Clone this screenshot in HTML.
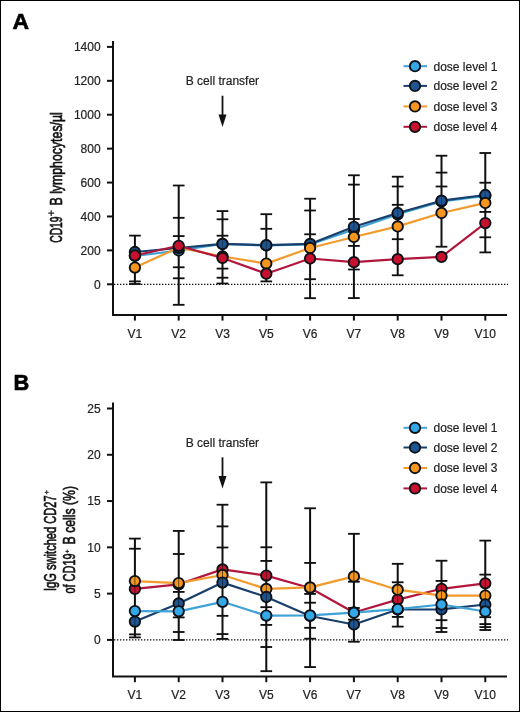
<!DOCTYPE html>
<html><head><meta charset="utf-8"><style>
html,body{margin:0;padding:0;background:#fff;}
body{width:520px;height:712px;overflow:hidden;}
svg{display:block;will-change:transform;font-family:"Liberation Sans",sans-serif;fill:#222;}
.tt{stroke:#111;fill:#111;stroke-width:0.65px;}
text{stroke:#222;stroke-width:0.2px;}
</style></head><body>
<svg width="520" height="712" viewBox="0 0 520 712">
<rect x="0.5" y="0.5" width="519" height="711" fill="#fff" stroke="#000" stroke-width="1"/>
<text transform="translate(12.6,28.5) scale(1.05,1)" font-size="21.8" font-weight="bold" style="fill:#000;stroke:#000;stroke-width:0.6px">A</text>
<line x1="113" y1="41" x2="113" y2="315" stroke="#111" stroke-width="2"/>
<line x1="112" y1="315" x2="507" y2="315" stroke="#111" stroke-width="2"/>
<line x1="107" y1="284.3" x2="113" y2="284.3" stroke="#111" stroke-width="2"/>
<text x="100.6" y="288.5" font-size="12" text-anchor="end">0</text>
<line x1="107" y1="250.39" x2="113" y2="250.39" stroke="#111" stroke-width="2"/>
<text x="100.6" y="254.59" font-size="12" text-anchor="end">200</text>
<line x1="107" y1="216.47" x2="113" y2="216.47" stroke="#111" stroke-width="2"/>
<text x="100.6" y="220.67" font-size="12" text-anchor="end">400</text>
<line x1="107" y1="182.56" x2="113" y2="182.56" stroke="#111" stroke-width="2"/>
<text x="100.6" y="186.76" font-size="12" text-anchor="end">600</text>
<line x1="107" y1="148.64" x2="113" y2="148.64" stroke="#111" stroke-width="2"/>
<text x="100.6" y="152.84" font-size="12" text-anchor="end">800</text>
<line x1="107" y1="114.73" x2="113" y2="114.73" stroke="#111" stroke-width="2"/>
<text x="100.6" y="118.93" font-size="12" text-anchor="end">1000</text>
<line x1="107" y1="80.82" x2="113" y2="80.82" stroke="#111" stroke-width="2"/>
<text x="100.6" y="85.02" font-size="12" text-anchor="end">1200</text>
<line x1="107" y1="46.9" x2="113" y2="46.9" stroke="#111" stroke-width="2"/>
<text x="100.6" y="51.1" font-size="12" text-anchor="end">1400</text>
<line x1="134.9" y1="315" x2="134.9" y2="320.6" stroke="#111" stroke-width="2"/>
<text x="134.9" y="337.5" font-size="12" text-anchor="middle">V1</text>
<line x1="178.7" y1="315" x2="178.7" y2="320.6" stroke="#111" stroke-width="2"/>
<text x="178.7" y="337.5" font-size="12" text-anchor="middle">V2</text>
<line x1="222.5" y1="315" x2="222.5" y2="320.6" stroke="#111" stroke-width="2"/>
<text x="222.5" y="337.5" font-size="12" text-anchor="middle">V3</text>
<line x1="266.3" y1="315" x2="266.3" y2="320.6" stroke="#111" stroke-width="2"/>
<text x="266.3" y="337.5" font-size="12" text-anchor="middle">V5</text>
<line x1="310.1" y1="315" x2="310.1" y2="320.6" stroke="#111" stroke-width="2"/>
<text x="310.1" y="337.5" font-size="12" text-anchor="middle">V6</text>
<line x1="353.9" y1="315" x2="353.9" y2="320.6" stroke="#111" stroke-width="2"/>
<text x="353.9" y="337.5" font-size="12" text-anchor="middle">V7</text>
<line x1="397.7" y1="315" x2="397.7" y2="320.6" stroke="#111" stroke-width="2"/>
<text x="397.7" y="337.5" font-size="12" text-anchor="middle">V8</text>
<line x1="441.5" y1="315" x2="441.5" y2="320.6" stroke="#111" stroke-width="2"/>
<text x="441.5" y="337.5" font-size="12" text-anchor="middle">V9</text>
<line x1="485.3" y1="315" x2="485.3" y2="320.6" stroke="#111" stroke-width="2"/>
<text x="485.3" y="337.5" font-size="12" text-anchor="middle">V10</text>
<line x1="114" y1="284.3" x2="508" y2="284.3" stroke="#111" stroke-width="1.3" stroke-dasharray="1.4 1.6"/>
<text transform="translate(61.8,242.8) rotate(-90) scale(0.644,1)" font-size="16" class="tt">CD19</text><path d="M48.3 213.1H54.1M51.2 210.2V216" stroke="#222" stroke-width="1.2" fill="none"/><text transform="translate(61.8,205.5) rotate(-90) scale(0.77,1)" font-size="16" class="tt">B lymphocytes/µl</text>
<text x="222.4" y="85.1" font-size="12" text-anchor="middle">B cell transfer</text>
<line x1="222.5" y1="95.7" x2="222.5" y2="116" stroke="#111" stroke-width="1.8"/>
<path d="M218.5 114.5 L226.5 114.5 L222.5 127 Z" fill="#111"/>
<line x1="403.5" y1="66.2" x2="427" y2="66.2" stroke="#3fa2d6" stroke-width="2"/>
<circle cx="415" cy="66.2" r="5.2" fill="#33a8e6" stroke="#0d1219" stroke-width="1.9"/>
<text x="433.5" y="70.5" font-size="12">dose level 1</text>
<line x1="403.5" y1="85.9" x2="427" y2="85.9" stroke="#183f6c" stroke-width="2"/>
<circle cx="415" cy="85.9" r="5.2" fill="#1e5592" stroke="#0d1219" stroke-width="1.9"/>
<text x="433.5" y="90.2" font-size="12">dose level 2</text>
<line x1="403.5" y1="106.4" x2="427" y2="106.4" stroke="#f29b2c" stroke-width="2"/>
<circle cx="415" cy="106.4" r="5.2" fill="#f6961c" stroke="#0d1219" stroke-width="1.9"/>
<text x="433.5" y="110.7" font-size="12">dose level 3</text>
<line x1="403.5" y1="126.8" x2="427" y2="126.8" stroke="#b3163c" stroke-width="2"/>
<circle cx="415" cy="126.8" r="5.2" fill="#c9112f" stroke="#0d1219" stroke-width="1.9"/>
<text x="433.5" y="131.1" font-size="12">dose level 4</text>
<line x1="134.9" y1="235.6" x2="134.9" y2="284" stroke="#111" stroke-width="2"/>
<line x1="129.1" y1="235.6" x2="140.7" y2="235.6" stroke="#111" stroke-width="1.8"/>
<line x1="129.1" y1="281.4" x2="140.7" y2="281.4" stroke="#111" stroke-width="1.8"/>
<line x1="129.1" y1="284" x2="140.7" y2="284" stroke="#111" stroke-width="1.8"/>
<line x1="178.7" y1="185.5" x2="178.7" y2="304.8" stroke="#111" stroke-width="2"/>
<line x1="172.9" y1="185.5" x2="184.5" y2="185.5" stroke="#111" stroke-width="1.8"/>
<line x1="172.9" y1="217.8" x2="184.5" y2="217.8" stroke="#111" stroke-width="1.8"/>
<line x1="172.9" y1="236.1" x2="184.5" y2="236.1" stroke="#111" stroke-width="1.8"/>
<line x1="172.9" y1="267.3" x2="184.5" y2="267.3" stroke="#111" stroke-width="1.8"/>
<line x1="172.9" y1="278.3" x2="184.5" y2="278.3" stroke="#111" stroke-width="1.8"/>
<line x1="172.9" y1="304.8" x2="184.5" y2="304.8" stroke="#111" stroke-width="1.8"/>
<line x1="222.5" y1="211.1" x2="222.5" y2="283.5" stroke="#111" stroke-width="2"/>
<line x1="216.7" y1="211.1" x2="228.3" y2="211.1" stroke="#111" stroke-width="1.8"/>
<line x1="216.7" y1="219.3" x2="228.3" y2="219.3" stroke="#111" stroke-width="1.8"/>
<line x1="216.7" y1="235.7" x2="228.3" y2="235.7" stroke="#111" stroke-width="1.8"/>
<line x1="216.7" y1="268.6" x2="228.3" y2="268.6" stroke="#111" stroke-width="1.8"/>
<line x1="216.7" y1="277.7" x2="228.3" y2="277.7" stroke="#111" stroke-width="1.8"/>
<line x1="216.7" y1="283.5" x2="228.3" y2="283.5" stroke="#111" stroke-width="1.8"/>
<line x1="266.3" y1="214.2" x2="266.3" y2="281.4" stroke="#111" stroke-width="2"/>
<line x1="260.5" y1="214.2" x2="272.1" y2="214.2" stroke="#111" stroke-width="1.8"/>
<line x1="260.5" y1="228.8" x2="272.1" y2="228.8" stroke="#111" stroke-width="1.8"/>
<line x1="260.5" y1="281.4" x2="272.1" y2="281.4" stroke="#111" stroke-width="1.8"/>
<line x1="310.1" y1="198.7" x2="310.1" y2="298.2" stroke="#111" stroke-width="2"/>
<line x1="304.3" y1="198.7" x2="315.9" y2="198.7" stroke="#111" stroke-width="1.8"/>
<line x1="304.3" y1="210.5" x2="315.9" y2="210.5" stroke="#111" stroke-width="1.8"/>
<line x1="304.3" y1="234.3" x2="315.9" y2="234.3" stroke="#111" stroke-width="1.8"/>
<line x1="304.3" y1="279.2" x2="315.9" y2="279.2" stroke="#111" stroke-width="1.8"/>
<line x1="304.3" y1="298.2" x2="315.9" y2="298.2" stroke="#111" stroke-width="1.8"/>
<line x1="353.9" y1="175.3" x2="353.9" y2="298.1" stroke="#111" stroke-width="2"/>
<line x1="348.1" y1="175.3" x2="359.7" y2="175.3" stroke="#111" stroke-width="1.8"/>
<line x1="348.1" y1="184.6" x2="359.7" y2="184.6" stroke="#111" stroke-width="1.8"/>
<line x1="348.1" y1="219" x2="359.7" y2="219" stroke="#111" stroke-width="1.8"/>
<line x1="348.1" y1="245.9" x2="359.7" y2="245.9" stroke="#111" stroke-width="1.8"/>
<line x1="348.1" y1="269.5" x2="359.7" y2="269.5" stroke="#111" stroke-width="1.8"/>
<line x1="348.1" y1="298.1" x2="359.7" y2="298.1" stroke="#111" stroke-width="1.8"/>
<line x1="397.7" y1="176.7" x2="397.7" y2="275.3" stroke="#111" stroke-width="2"/>
<line x1="391.9" y1="176.7" x2="403.5" y2="176.7" stroke="#111" stroke-width="1.8"/>
<line x1="391.9" y1="186.5" x2="403.5" y2="186.5" stroke="#111" stroke-width="1.8"/>
<line x1="391.9" y1="204.8" x2="403.5" y2="204.8" stroke="#111" stroke-width="1.8"/>
<line x1="391.9" y1="239.2" x2="403.5" y2="239.2" stroke="#111" stroke-width="1.8"/>
<line x1="391.9" y1="275.3" x2="403.5" y2="275.3" stroke="#111" stroke-width="1.8"/>
<line x1="441.5" y1="155.7" x2="441.5" y2="246.7" stroke="#111" stroke-width="2"/>
<line x1="435.7" y1="155.7" x2="447.3" y2="155.7" stroke="#111" stroke-width="1.8"/>
<line x1="435.7" y1="172.6" x2="447.3" y2="172.6" stroke="#111" stroke-width="1.8"/>
<line x1="435.7" y1="186.5" x2="447.3" y2="186.5" stroke="#111" stroke-width="1.8"/>
<line x1="435.7" y1="246.7" x2="447.3" y2="246.7" stroke="#111" stroke-width="1.8"/>
<line x1="485.3" y1="153" x2="485.3" y2="252.4" stroke="#111" stroke-width="2"/>
<line x1="479.5" y1="153" x2="491.1" y2="153" stroke="#111" stroke-width="1.8"/>
<line x1="479.5" y1="182.7" x2="491.1" y2="182.7" stroke="#111" stroke-width="1.8"/>
<line x1="479.5" y1="211.9" x2="491.1" y2="211.9" stroke="#111" stroke-width="1.8"/>
<line x1="479.5" y1="237.3" x2="491.1" y2="237.3" stroke="#111" stroke-width="1.8"/>
<line x1="479.5" y1="252.4" x2="491.1" y2="252.4" stroke="#111" stroke-width="1.8"/>
<polyline points="134.9,256 178.7,250.5 222.5,244 266.3,245.5 310.1,244.5 353.9,229.5 397.7,214.3 441.5,201.5 485.3,196" fill="none" stroke="#3fa2d6" stroke-width="2.2" stroke-linejoin="round"/>
<circle cx="134.9" cy="256" r="5.2" fill="#33a8e6" stroke="#0d1219" stroke-width="1.9"/>
<circle cx="178.7" cy="250.5" r="5.2" fill="#33a8e6" stroke="#0d1219" stroke-width="1.9"/>
<circle cx="222.5" cy="244" r="5.2" fill="#33a8e6" stroke="#0d1219" stroke-width="1.9"/>
<circle cx="266.3" cy="245.5" r="5.2" fill="#33a8e6" stroke="#0d1219" stroke-width="1.9"/>
<circle cx="310.1" cy="244.5" r="5.2" fill="#33a8e6" stroke="#0d1219" stroke-width="1.9"/>
<circle cx="353.9" cy="229.5" r="5.2" fill="#33a8e6" stroke="#0d1219" stroke-width="1.9"/>
<circle cx="397.7" cy="214.3" r="5.2" fill="#33a8e6" stroke="#0d1219" stroke-width="1.9"/>
<circle cx="441.5" cy="201.5" r="5.2" fill="#33a8e6" stroke="#0d1219" stroke-width="1.9"/>
<circle cx="485.3" cy="196" r="5.2" fill="#33a8e6" stroke="#0d1219" stroke-width="1.9"/>
<polyline points="134.9,252 178.7,248 222.5,243.9 266.3,245.2 310.1,243.9 353.9,226.8 397.7,213 441.5,200.7 485.3,195" fill="none" stroke="#183f6c" stroke-width="2.2" stroke-linejoin="round"/>
<circle cx="134.9" cy="252" r="5.2" fill="#1e5592" stroke="#0d1219" stroke-width="1.9"/>
<circle cx="178.7" cy="248" r="5.2" fill="#1e5592" stroke="#0d1219" stroke-width="1.9"/>
<circle cx="222.5" cy="243.9" r="5.2" fill="#1e5592" stroke="#0d1219" stroke-width="1.9"/>
<circle cx="266.3" cy="245.2" r="5.2" fill="#1e5592" stroke="#0d1219" stroke-width="1.9"/>
<circle cx="310.1" cy="243.9" r="5.2" fill="#1e5592" stroke="#0d1219" stroke-width="1.9"/>
<circle cx="353.9" cy="226.8" r="5.2" fill="#1e5592" stroke="#0d1219" stroke-width="1.9"/>
<circle cx="397.7" cy="213" r="5.2" fill="#1e5592" stroke="#0d1219" stroke-width="1.9"/>
<circle cx="441.5" cy="200.7" r="5.2" fill="#1e5592" stroke="#0d1219" stroke-width="1.9"/>
<circle cx="485.3" cy="195" r="5.2" fill="#1e5592" stroke="#0d1219" stroke-width="1.9"/>
<g stroke="#111" stroke-width="1" opacity="0.4">
<line x1="134.9" y1="235.6" x2="134.9" y2="284"/>
<line x1="129.1" y1="235.6" x2="140.7" y2="235.6"/>
<line x1="129.1" y1="281.4" x2="140.7" y2="281.4"/>
<line x1="129.1" y1="284" x2="140.7" y2="284"/>
<line x1="178.7" y1="185.5" x2="178.7" y2="304.8"/>
<line x1="172.9" y1="185.5" x2="184.5" y2="185.5"/>
<line x1="172.9" y1="217.8" x2="184.5" y2="217.8"/>
<line x1="172.9" y1="236.1" x2="184.5" y2="236.1"/>
<line x1="172.9" y1="267.3" x2="184.5" y2="267.3"/>
<line x1="172.9" y1="278.3" x2="184.5" y2="278.3"/>
<line x1="172.9" y1="304.8" x2="184.5" y2="304.8"/>
<line x1="222.5" y1="211.1" x2="222.5" y2="283.5"/>
<line x1="216.7" y1="211.1" x2="228.3" y2="211.1"/>
<line x1="216.7" y1="219.3" x2="228.3" y2="219.3"/>
<line x1="216.7" y1="235.7" x2="228.3" y2="235.7"/>
<line x1="216.7" y1="268.6" x2="228.3" y2="268.6"/>
<line x1="216.7" y1="277.7" x2="228.3" y2="277.7"/>
<line x1="216.7" y1="283.5" x2="228.3" y2="283.5"/>
<line x1="266.3" y1="214.2" x2="266.3" y2="281.4"/>
<line x1="260.5" y1="214.2" x2="272.1" y2="214.2"/>
<line x1="260.5" y1="228.8" x2="272.1" y2="228.8"/>
<line x1="260.5" y1="281.4" x2="272.1" y2="281.4"/>
<line x1="310.1" y1="198.7" x2="310.1" y2="298.2"/>
<line x1="304.3" y1="198.7" x2="315.9" y2="198.7"/>
<line x1="304.3" y1="210.5" x2="315.9" y2="210.5"/>
<line x1="304.3" y1="234.3" x2="315.9" y2="234.3"/>
<line x1="304.3" y1="279.2" x2="315.9" y2="279.2"/>
<line x1="304.3" y1="298.2" x2="315.9" y2="298.2"/>
<line x1="353.9" y1="175.3" x2="353.9" y2="298.1"/>
<line x1="348.1" y1="175.3" x2="359.7" y2="175.3"/>
<line x1="348.1" y1="184.6" x2="359.7" y2="184.6"/>
<line x1="348.1" y1="219" x2="359.7" y2="219"/>
<line x1="348.1" y1="245.9" x2="359.7" y2="245.9"/>
<line x1="348.1" y1="269.5" x2="359.7" y2="269.5"/>
<line x1="348.1" y1="298.1" x2="359.7" y2="298.1"/>
<line x1="397.7" y1="176.7" x2="397.7" y2="275.3"/>
<line x1="391.9" y1="176.7" x2="403.5" y2="176.7"/>
<line x1="391.9" y1="186.5" x2="403.5" y2="186.5"/>
<line x1="391.9" y1="204.8" x2="403.5" y2="204.8"/>
<line x1="391.9" y1="239.2" x2="403.5" y2="239.2"/>
<line x1="391.9" y1="275.3" x2="403.5" y2="275.3"/>
<line x1="441.5" y1="155.7" x2="441.5" y2="246.7"/>
<line x1="435.7" y1="155.7" x2="447.3" y2="155.7"/>
<line x1="435.7" y1="172.6" x2="447.3" y2="172.6"/>
<line x1="435.7" y1="186.5" x2="447.3" y2="186.5"/>
<line x1="435.7" y1="246.7" x2="447.3" y2="246.7"/>
<line x1="485.3" y1="153" x2="485.3" y2="252.4"/>
<line x1="479.5" y1="153" x2="491.1" y2="153"/>
<line x1="479.5" y1="182.7" x2="491.1" y2="182.7"/>
<line x1="479.5" y1="211.9" x2="491.1" y2="211.9"/>
<line x1="479.5" y1="237.3" x2="491.1" y2="237.3"/>
<line x1="479.5" y1="252.4" x2="491.1" y2="252.4"/>
</g>
<polyline points="134.9,267.6 178.7,247.5 222.5,256.5 266.3,263.6 310.1,248 353.9,237 397.7,226.4 441.5,213 485.3,202.9" fill="none" stroke="#f29b2c" stroke-width="2.2" stroke-linejoin="round"/>
<circle cx="134.9" cy="267.6" r="5.2" fill="#f6961c" stroke="#0d1219" stroke-width="1.9"/>
<circle cx="178.7" cy="247.5" r="5.2" fill="#f6961c" stroke="#0d1219" stroke-width="1.9"/>
<circle cx="222.5" cy="256.5" r="5.2" fill="#f6961c" stroke="#0d1219" stroke-width="1.9"/>
<circle cx="266.3" cy="263.6" r="5.2" fill="#f6961c" stroke="#0d1219" stroke-width="1.9"/>
<circle cx="310.1" cy="248" r="5.2" fill="#f6961c" stroke="#0d1219" stroke-width="1.9"/>
<circle cx="353.9" cy="237" r="5.2" fill="#f6961c" stroke="#0d1219" stroke-width="1.9"/>
<circle cx="397.7" cy="226.4" r="5.2" fill="#f6961c" stroke="#0d1219" stroke-width="1.9"/>
<circle cx="441.5" cy="213" r="5.2" fill="#f6961c" stroke="#0d1219" stroke-width="1.9"/>
<circle cx="485.3" cy="202.9" r="5.2" fill="#f6961c" stroke="#0d1219" stroke-width="1.9"/>
<polyline points="134.9,255.5 178.7,245.8 222.5,258 266.3,273.7 310.1,258.5 353.9,262.2 397.7,259.2 441.5,256.9 485.3,223.1" fill="none" stroke="#b3163c" stroke-width="2.2" stroke-linejoin="round"/>
<circle cx="134.9" cy="255.5" r="5.2" fill="#c9112f" stroke="#0d1219" stroke-width="1.9"/>
<circle cx="178.7" cy="245.8" r="5.2" fill="#c9112f" stroke="#0d1219" stroke-width="1.9"/>
<circle cx="222.5" cy="258" r="5.2" fill="#c9112f" stroke="#0d1219" stroke-width="1.9"/>
<circle cx="266.3" cy="273.7" r="5.2" fill="#c9112f" stroke="#0d1219" stroke-width="1.9"/>
<circle cx="310.1" cy="258.5" r="5.2" fill="#c9112f" stroke="#0d1219" stroke-width="1.9"/>
<circle cx="353.9" cy="262.2" r="5.2" fill="#c9112f" stroke="#0d1219" stroke-width="1.9"/>
<circle cx="397.7" cy="259.2" r="5.2" fill="#c9112f" stroke="#0d1219" stroke-width="1.9"/>
<circle cx="441.5" cy="256.9" r="5.2" fill="#c9112f" stroke="#0d1219" stroke-width="1.9"/>
<circle cx="485.3" cy="223.1" r="5.2" fill="#c9112f" stroke="#0d1219" stroke-width="1.9"/>
<text transform="translate(13.5,390.1) scale(1.0,1)" font-size="21.8" font-weight="bold" style="fill:#000;stroke:#000;stroke-width:0.6px">B</text>
<line x1="113" y1="402.6" x2="113" y2="676.6" stroke="#111" stroke-width="2"/>
<line x1="112" y1="676.6" x2="507" y2="676.6" stroke="#111" stroke-width="2"/>
<line x1="107" y1="639.9" x2="113" y2="639.9" stroke="#111" stroke-width="2"/>
<text x="100.6" y="644.1" font-size="12" text-anchor="end">0</text>
<line x1="107" y1="593.62" x2="113" y2="593.62" stroke="#111" stroke-width="2"/>
<text x="100.6" y="597.82" font-size="12" text-anchor="end">5</text>
<line x1="107" y1="547.34" x2="113" y2="547.34" stroke="#111" stroke-width="2"/>
<text x="100.6" y="551.54" font-size="12" text-anchor="end">10</text>
<line x1="107" y1="501.06" x2="113" y2="501.06" stroke="#111" stroke-width="2"/>
<text x="100.6" y="505.26" font-size="12" text-anchor="end">15</text>
<line x1="107" y1="454.78" x2="113" y2="454.78" stroke="#111" stroke-width="2"/>
<text x="100.6" y="458.98" font-size="12" text-anchor="end">20</text>
<line x1="107" y1="408.5" x2="113" y2="408.5" stroke="#111" stroke-width="2"/>
<text x="100.6" y="412.7" font-size="12" text-anchor="end">25</text>
<line x1="134.9" y1="676.6" x2="134.9" y2="682.2" stroke="#111" stroke-width="2"/>
<text x="134.9" y="699.1" font-size="12" text-anchor="middle">V1</text>
<line x1="178.7" y1="676.6" x2="178.7" y2="682.2" stroke="#111" stroke-width="2"/>
<text x="178.7" y="699.1" font-size="12" text-anchor="middle">V2</text>
<line x1="222.5" y1="676.6" x2="222.5" y2="682.2" stroke="#111" stroke-width="2"/>
<text x="222.5" y="699.1" font-size="12" text-anchor="middle">V3</text>
<line x1="266.3" y1="676.6" x2="266.3" y2="682.2" stroke="#111" stroke-width="2"/>
<text x="266.3" y="699.1" font-size="12" text-anchor="middle">V5</text>
<line x1="310.1" y1="676.6" x2="310.1" y2="682.2" stroke="#111" stroke-width="2"/>
<text x="310.1" y="699.1" font-size="12" text-anchor="middle">V6</text>
<line x1="353.9" y1="676.6" x2="353.9" y2="682.2" stroke="#111" stroke-width="2"/>
<text x="353.9" y="699.1" font-size="12" text-anchor="middle">V7</text>
<line x1="397.7" y1="676.6" x2="397.7" y2="682.2" stroke="#111" stroke-width="2"/>
<text x="397.7" y="699.1" font-size="12" text-anchor="middle">V8</text>
<line x1="441.5" y1="676.6" x2="441.5" y2="682.2" stroke="#111" stroke-width="2"/>
<text x="441.5" y="699.1" font-size="12" text-anchor="middle">V9</text>
<line x1="485.3" y1="676.6" x2="485.3" y2="682.2" stroke="#111" stroke-width="2"/>
<text x="485.3" y="699.1" font-size="12" text-anchor="middle">V10</text>
<line x1="114" y1="639.9" x2="508" y2="639.9" stroke="#111" stroke-width="1.3" stroke-dasharray="1.4 1.6"/>
<text transform="translate(56.0,591.0) rotate(-90) scale(0.695,1)" font-size="16" class="tt">IgG switched CD27</text><path d="M44.7 492.3H48.7M46.7 490.3V494.3" stroke="#222" stroke-width="1.0" fill="none"/><text transform="translate(75.4,593.6) rotate(-90) scale(0.685,1)" font-size="16" class="tt">of CD19</text><path d="M65.4 551.4H69M67.2 549.6V553.2" stroke="#222" stroke-width="1.0" fill="none"/><text transform="translate(75.4,544.4) rotate(-90) scale(0.765,1)" font-size="16" class="tt">B cells (%)</text>
<text x="222.4" y="446.7" font-size="12" text-anchor="middle">B cell transfer</text>
<line x1="222.5" y1="457.3" x2="222.5" y2="477.6" stroke="#111" stroke-width="1.8"/>
<path d="M218.5 476.1 L226.5 476.1 L222.5 488.6 Z" fill="#111"/>
<line x1="403.5" y1="427.8" x2="427" y2="427.8" stroke="#3fa2d6" stroke-width="2"/>
<circle cx="415" cy="427.8" r="5.2" fill="#33a8e6" stroke="#0d1219" stroke-width="1.9"/>
<text x="433.5" y="432.1" font-size="12">dose level 1</text>
<line x1="403.5" y1="447.5" x2="427" y2="447.5" stroke="#183f6c" stroke-width="2"/>
<circle cx="415" cy="447.5" r="5.2" fill="#1e5592" stroke="#0d1219" stroke-width="1.9"/>
<text x="433.5" y="451.8" font-size="12">dose level 2</text>
<line x1="403.5" y1="468" x2="427" y2="468" stroke="#f29b2c" stroke-width="2"/>
<circle cx="415" cy="468" r="5.2" fill="#f6961c" stroke="#0d1219" stroke-width="1.9"/>
<text x="433.5" y="472.3" font-size="12">dose level 3</text>
<line x1="403.5" y1="488.4" x2="427" y2="488.4" stroke="#b3163c" stroke-width="2"/>
<circle cx="415" cy="488.4" r="5.2" fill="#c9112f" stroke="#0d1219" stroke-width="1.9"/>
<text x="433.5" y="492.7" font-size="12">dose level 4</text>
<line x1="134.9" y1="538.6" x2="134.9" y2="637.4" stroke="#111" stroke-width="2"/>
<line x1="129.1" y1="538.6" x2="140.7" y2="538.6" stroke="#111" stroke-width="1.8"/>
<line x1="129.1" y1="548.7" x2="140.7" y2="548.7" stroke="#111" stroke-width="1.8"/>
<line x1="129.1" y1="634.4" x2="140.7" y2="634.4" stroke="#111" stroke-width="1.8"/>
<line x1="129.1" y1="637.4" x2="140.7" y2="637.4" stroke="#111" stroke-width="1.8"/>
<line x1="178.7" y1="530.9" x2="178.7" y2="640" stroke="#111" stroke-width="2"/>
<line x1="172.9" y1="530.9" x2="184.5" y2="530.9" stroke="#111" stroke-width="1.8"/>
<line x1="172.9" y1="554" x2="184.5" y2="554" stroke="#111" stroke-width="1.8"/>
<line x1="172.9" y1="591.9" x2="184.5" y2="591.9" stroke="#111" stroke-width="1.8"/>
<line x1="172.9" y1="617.4" x2="184.5" y2="617.4" stroke="#111" stroke-width="1.8"/>
<line x1="172.9" y1="632" x2="184.5" y2="632" stroke="#111" stroke-width="1.8"/>
<line x1="172.9" y1="640" x2="184.5" y2="640" stroke="#111" stroke-width="1.8"/>
<line x1="222.5" y1="504.7" x2="222.5" y2="638.9" stroke="#111" stroke-width="2"/>
<line x1="216.7" y1="504.7" x2="228.3" y2="504.7" stroke="#111" stroke-width="1.8"/>
<line x1="216.7" y1="526.4" x2="228.3" y2="526.4" stroke="#111" stroke-width="1.8"/>
<line x1="216.7" y1="547.5" x2="228.3" y2="547.5" stroke="#111" stroke-width="1.8"/>
<line x1="216.7" y1="615.8" x2="228.3" y2="615.8" stroke="#111" stroke-width="1.8"/>
<line x1="216.7" y1="634.1" x2="228.3" y2="634.1" stroke="#111" stroke-width="1.8"/>
<line x1="216.7" y1="638.9" x2="228.3" y2="638.9" stroke="#111" stroke-width="1.8"/>
<line x1="266.3" y1="482.4" x2="266.3" y2="671.2" stroke="#111" stroke-width="2"/>
<line x1="260.5" y1="482.4" x2="272.1" y2="482.4" stroke="#111" stroke-width="1.8"/>
<line x1="260.5" y1="547.3" x2="272.1" y2="547.3" stroke="#111" stroke-width="1.8"/>
<line x1="260.5" y1="560.9" x2="272.1" y2="560.9" stroke="#111" stroke-width="1.8"/>
<line x1="260.5" y1="607.2" x2="272.1" y2="607.2" stroke="#111" stroke-width="1.8"/>
<line x1="260.5" y1="624.9" x2="272.1" y2="624.9" stroke="#111" stroke-width="1.8"/>
<line x1="260.5" y1="647" x2="272.1" y2="647" stroke="#111" stroke-width="1.8"/>
<line x1="260.5" y1="671.2" x2="272.1" y2="671.2" stroke="#111" stroke-width="1.8"/>
<line x1="310.1" y1="508.3" x2="310.1" y2="667.1" stroke="#111" stroke-width="2"/>
<line x1="304.3" y1="508.3" x2="315.9" y2="508.3" stroke="#111" stroke-width="1.8"/>
<line x1="304.3" y1="562.9" x2="315.9" y2="562.9" stroke="#111" stroke-width="1.8"/>
<line x1="304.3" y1="593.9" x2="315.9" y2="593.9" stroke="#111" stroke-width="1.8"/>
<line x1="304.3" y1="602.7" x2="315.9" y2="602.7" stroke="#111" stroke-width="1.8"/>
<line x1="304.3" y1="627.8" x2="315.9" y2="627.8" stroke="#111" stroke-width="1.8"/>
<line x1="304.3" y1="638.7" x2="315.9" y2="638.7" stroke="#111" stroke-width="1.8"/>
<line x1="304.3" y1="667.1" x2="315.9" y2="667.1" stroke="#111" stroke-width="1.8"/>
<line x1="353.9" y1="533.8" x2="353.9" y2="641.7" stroke="#111" stroke-width="2"/>
<line x1="348.1" y1="533.8" x2="359.7" y2="533.8" stroke="#111" stroke-width="1.8"/>
<line x1="348.1" y1="581.7" x2="359.7" y2="581.7" stroke="#111" stroke-width="1.8"/>
<line x1="348.1" y1="608" x2="359.7" y2="608" stroke="#111" stroke-width="1.8"/>
<line x1="348.1" y1="619.6" x2="359.7" y2="619.6" stroke="#111" stroke-width="1.8"/>
<line x1="348.1" y1="641.7" x2="359.7" y2="641.7" stroke="#111" stroke-width="1.8"/>
<line x1="397.7" y1="563.8" x2="397.7" y2="626.6" stroke="#111" stroke-width="2"/>
<line x1="391.9" y1="563.8" x2="403.5" y2="563.8" stroke="#111" stroke-width="1.8"/>
<line x1="391.9" y1="582.3" x2="403.5" y2="582.3" stroke="#111" stroke-width="1.8"/>
<line x1="391.9" y1="616.9" x2="403.5" y2="616.9" stroke="#111" stroke-width="1.8"/>
<line x1="391.9" y1="626.6" x2="403.5" y2="626.6" stroke="#111" stroke-width="1.8"/>
<line x1="441.5" y1="560.7" x2="441.5" y2="632" stroke="#111" stroke-width="2"/>
<line x1="435.7" y1="560.7" x2="447.3" y2="560.7" stroke="#111" stroke-width="1.8"/>
<line x1="435.7" y1="580.9" x2="447.3" y2="580.9" stroke="#111" stroke-width="1.8"/>
<line x1="435.7" y1="620.2" x2="447.3" y2="620.2" stroke="#111" stroke-width="1.8"/>
<line x1="435.7" y1="628" x2="447.3" y2="628" stroke="#111" stroke-width="1.8"/>
<line x1="435.7" y1="632" x2="447.3" y2="632" stroke="#111" stroke-width="1.8"/>
<line x1="485.3" y1="540.6" x2="485.3" y2="630" stroke="#111" stroke-width="2"/>
<line x1="479.5" y1="540.6" x2="491.1" y2="540.6" stroke="#111" stroke-width="1.8"/>
<line x1="479.5" y1="574.6" x2="491.1" y2="574.6" stroke="#111" stroke-width="1.8"/>
<line x1="479.5" y1="617.2" x2="491.1" y2="617.2" stroke="#111" stroke-width="1.8"/>
<line x1="479.5" y1="624.1" x2="491.1" y2="624.1" stroke="#111" stroke-width="1.8"/>
<line x1="479.5" y1="627.1" x2="491.1" y2="627.1" stroke="#111" stroke-width="1.8"/>
<line x1="479.5" y1="630" x2="491.1" y2="630" stroke="#111" stroke-width="1.8"/>
<polyline points="134.9,588.9 178.7,584.3 222.5,569.4 266.3,575.6 310.1,588 353.9,612.5 397.7,599.6 441.5,588.8 485.3,583.3" fill="none" stroke="#b3163c" stroke-width="2.2" stroke-linejoin="round"/>
<circle cx="134.9" cy="588.9" r="5.2" fill="#c9112f" stroke="#0d1219" stroke-width="1.9"/>
<circle cx="178.7" cy="584.3" r="5.2" fill="#c9112f" stroke="#0d1219" stroke-width="1.9"/>
<circle cx="222.5" cy="569.4" r="5.2" fill="#c9112f" stroke="#0d1219" stroke-width="1.9"/>
<circle cx="266.3" cy="575.6" r="5.2" fill="#c9112f" stroke="#0d1219" stroke-width="1.9"/>
<circle cx="310.1" cy="588" r="5.2" fill="#c9112f" stroke="#0d1219" stroke-width="1.9"/>
<circle cx="353.9" cy="612.5" r="5.2" fill="#c9112f" stroke="#0d1219" stroke-width="1.9"/>
<circle cx="397.7" cy="599.6" r="5.2" fill="#c9112f" stroke="#0d1219" stroke-width="1.9"/>
<circle cx="441.5" cy="588.8" r="5.2" fill="#c9112f" stroke="#0d1219" stroke-width="1.9"/>
<circle cx="485.3" cy="583.3" r="5.2" fill="#c9112f" stroke="#0d1219" stroke-width="1.9"/>
<polyline points="134.9,581.1 178.7,583.1 222.5,575 266.3,588.9 310.1,587.4 353.9,576.4 397.7,589.7 441.5,595.6 485.3,595.6" fill="none" stroke="#f29b2c" stroke-width="2.2" stroke-linejoin="round"/>
<circle cx="134.9" cy="581.1" r="5.2" fill="#f6961c" stroke="#0d1219" stroke-width="1.9"/>
<circle cx="178.7" cy="583.1" r="5.2" fill="#f6961c" stroke="#0d1219" stroke-width="1.9"/>
<circle cx="222.5" cy="575" r="5.2" fill="#f6961c" stroke="#0d1219" stroke-width="1.9"/>
<circle cx="266.3" cy="588.9" r="5.2" fill="#f6961c" stroke="#0d1219" stroke-width="1.9"/>
<circle cx="310.1" cy="587.4" r="5.2" fill="#f6961c" stroke="#0d1219" stroke-width="1.9"/>
<circle cx="353.9" cy="576.4" r="5.2" fill="#f6961c" stroke="#0d1219" stroke-width="1.9"/>
<circle cx="397.7" cy="589.7" r="5.2" fill="#f6961c" stroke="#0d1219" stroke-width="1.9"/>
<circle cx="441.5" cy="595.6" r="5.2" fill="#f6961c" stroke="#0d1219" stroke-width="1.9"/>
<circle cx="485.3" cy="595.6" r="5.2" fill="#f6961c" stroke="#0d1219" stroke-width="1.9"/>
<polyline points="134.9,621.6 178.7,603.4 222.5,582.6 266.3,597 310.1,616 353.9,624.5 397.7,609.5 441.5,609.4 485.3,604.5" fill="none" stroke="#183f6c" stroke-width="2.2" stroke-linejoin="round"/>
<circle cx="134.9" cy="621.6" r="5.2" fill="#1e5592" stroke="#0d1219" stroke-width="1.9"/>
<circle cx="178.7" cy="603.4" r="5.2" fill="#1e5592" stroke="#0d1219" stroke-width="1.9"/>
<circle cx="222.5" cy="582.6" r="5.2" fill="#1e5592" stroke="#0d1219" stroke-width="1.9"/>
<circle cx="266.3" cy="597" r="5.2" fill="#1e5592" stroke="#0d1219" stroke-width="1.9"/>
<circle cx="310.1" cy="616" r="5.2" fill="#1e5592" stroke="#0d1219" stroke-width="1.9"/>
<circle cx="353.9" cy="624.5" r="5.2" fill="#1e5592" stroke="#0d1219" stroke-width="1.9"/>
<circle cx="397.7" cy="609.5" r="5.2" fill="#1e5592" stroke="#0d1219" stroke-width="1.9"/>
<circle cx="441.5" cy="609.4" r="5.2" fill="#1e5592" stroke="#0d1219" stroke-width="1.9"/>
<circle cx="485.3" cy="604.5" r="5.2" fill="#1e5592" stroke="#0d1219" stroke-width="1.9"/>
<g stroke="#111" stroke-width="1" opacity="0.6">
<line x1="134.9" y1="538.6" x2="134.9" y2="637.4"/>
<line x1="129.1" y1="538.6" x2="140.7" y2="538.6"/>
<line x1="129.1" y1="548.7" x2="140.7" y2="548.7"/>
<line x1="129.1" y1="634.4" x2="140.7" y2="634.4"/>
<line x1="129.1" y1="637.4" x2="140.7" y2="637.4"/>
<line x1="178.7" y1="530.9" x2="178.7" y2="640"/>
<line x1="172.9" y1="530.9" x2="184.5" y2="530.9"/>
<line x1="172.9" y1="554" x2="184.5" y2="554"/>
<line x1="172.9" y1="591.9" x2="184.5" y2="591.9"/>
<line x1="172.9" y1="617.4" x2="184.5" y2="617.4"/>
<line x1="172.9" y1="632" x2="184.5" y2="632"/>
<line x1="172.9" y1="640" x2="184.5" y2="640"/>
<line x1="222.5" y1="504.7" x2="222.5" y2="638.9"/>
<line x1="216.7" y1="504.7" x2="228.3" y2="504.7"/>
<line x1="216.7" y1="526.4" x2="228.3" y2="526.4"/>
<line x1="216.7" y1="547.5" x2="228.3" y2="547.5"/>
<line x1="216.7" y1="615.8" x2="228.3" y2="615.8"/>
<line x1="216.7" y1="634.1" x2="228.3" y2="634.1"/>
<line x1="216.7" y1="638.9" x2="228.3" y2="638.9"/>
<line x1="266.3" y1="482.4" x2="266.3" y2="671.2"/>
<line x1="260.5" y1="482.4" x2="272.1" y2="482.4"/>
<line x1="260.5" y1="547.3" x2="272.1" y2="547.3"/>
<line x1="260.5" y1="560.9" x2="272.1" y2="560.9"/>
<line x1="260.5" y1="607.2" x2="272.1" y2="607.2"/>
<line x1="260.5" y1="624.9" x2="272.1" y2="624.9"/>
<line x1="260.5" y1="647" x2="272.1" y2="647"/>
<line x1="260.5" y1="671.2" x2="272.1" y2="671.2"/>
<line x1="310.1" y1="508.3" x2="310.1" y2="667.1"/>
<line x1="304.3" y1="508.3" x2="315.9" y2="508.3"/>
<line x1="304.3" y1="562.9" x2="315.9" y2="562.9"/>
<line x1="304.3" y1="593.9" x2="315.9" y2="593.9"/>
<line x1="304.3" y1="602.7" x2="315.9" y2="602.7"/>
<line x1="304.3" y1="627.8" x2="315.9" y2="627.8"/>
<line x1="304.3" y1="638.7" x2="315.9" y2="638.7"/>
<line x1="304.3" y1="667.1" x2="315.9" y2="667.1"/>
<line x1="353.9" y1="533.8" x2="353.9" y2="641.7"/>
<line x1="348.1" y1="533.8" x2="359.7" y2="533.8"/>
<line x1="348.1" y1="581.7" x2="359.7" y2="581.7"/>
<line x1="348.1" y1="608" x2="359.7" y2="608"/>
<line x1="348.1" y1="619.6" x2="359.7" y2="619.6"/>
<line x1="348.1" y1="641.7" x2="359.7" y2="641.7"/>
<line x1="397.7" y1="563.8" x2="397.7" y2="626.6"/>
<line x1="391.9" y1="563.8" x2="403.5" y2="563.8"/>
<line x1="391.9" y1="582.3" x2="403.5" y2="582.3"/>
<line x1="391.9" y1="616.9" x2="403.5" y2="616.9"/>
<line x1="391.9" y1="626.6" x2="403.5" y2="626.6"/>
<line x1="441.5" y1="560.7" x2="441.5" y2="632"/>
<line x1="435.7" y1="560.7" x2="447.3" y2="560.7"/>
<line x1="435.7" y1="580.9" x2="447.3" y2="580.9"/>
<line x1="435.7" y1="620.2" x2="447.3" y2="620.2"/>
<line x1="435.7" y1="628" x2="447.3" y2="628"/>
<line x1="435.7" y1="632" x2="447.3" y2="632"/>
<line x1="485.3" y1="540.6" x2="485.3" y2="630"/>
<line x1="479.5" y1="540.6" x2="491.1" y2="540.6"/>
<line x1="479.5" y1="574.6" x2="491.1" y2="574.6"/>
<line x1="479.5" y1="617.2" x2="491.1" y2="617.2"/>
<line x1="479.5" y1="624.1" x2="491.1" y2="624.1"/>
<line x1="479.5" y1="627.1" x2="491.1" y2="627.1"/>
<line x1="479.5" y1="630" x2="491.1" y2="630"/>
</g>
<polyline points="134.9,611.1 178.7,611.3 222.5,601.8 266.3,615.6 310.1,615.4 353.9,612.7 397.7,609.1 441.5,604.5 485.3,611.5" fill="none" stroke="#3fa2d6" stroke-width="2.2" stroke-linejoin="round"/>
<circle cx="134.9" cy="611.1" r="5.2" fill="#33a8e6" stroke="#0d1219" stroke-width="1.9"/>
<circle cx="178.7" cy="611.3" r="5.2" fill="#33a8e6" stroke="#0d1219" stroke-width="1.9"/>
<circle cx="222.5" cy="601.8" r="5.2" fill="#33a8e6" stroke="#0d1219" stroke-width="1.9"/>
<circle cx="266.3" cy="615.6" r="5.2" fill="#33a8e6" stroke="#0d1219" stroke-width="1.9"/>
<circle cx="310.1" cy="615.4" r="5.2" fill="#33a8e6" stroke="#0d1219" stroke-width="1.9"/>
<circle cx="353.9" cy="612.7" r="5.2" fill="#33a8e6" stroke="#0d1219" stroke-width="1.9"/>
<circle cx="397.7" cy="609.1" r="5.2" fill="#33a8e6" stroke="#0d1219" stroke-width="1.9"/>
<circle cx="441.5" cy="604.5" r="5.2" fill="#33a8e6" stroke="#0d1219" stroke-width="1.9"/>
<circle cx="485.3" cy="611.5" r="5.2" fill="#33a8e6" stroke="#0d1219" stroke-width="1.9"/>
</svg>
</body></html>
